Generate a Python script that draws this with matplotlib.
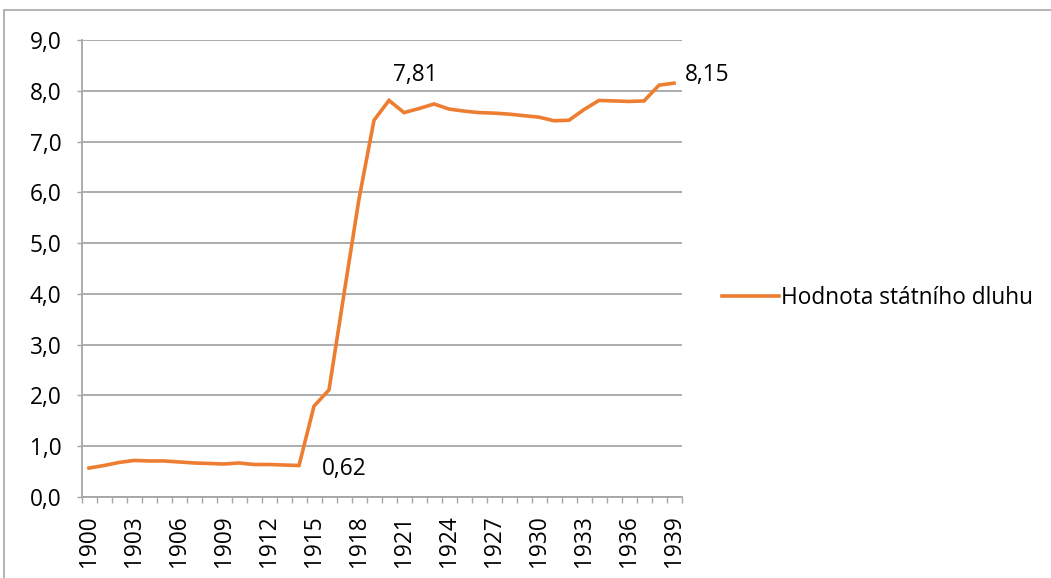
import numpy as np
import matplotlib
matplotlib.use('Agg')
import matplotlib.pyplot as plt
from matplotlib.patches import Rectangle

# Data
years = list(range(1900, 1940))
debt = [0.57, 0.62, 0.68, 0.72, 0.71, 0.71, 0.69, 0.67, 0.66, 0.65,
        0.67, 0.64, 0.64, 0.63, 0.62, 1.79, 2.11, 4.00, 5.87, 7.42,
        7.81, 7.57, 7.65, 7.74, 7.64, 7.60, 7.57, 7.56, 7.54, 7.51,
        7.48, 7.41, 7.42, 7.63, 7.81, 7.80, 7.79, 7.80, 8.11, 8.15]
series_name = 'Hodnota státního dluhu'
label_years = [1914, 1920, 1939]
y_ticks = [0, 1, 2, 3, 4, 5, 6, 7, 8, 9]

orange = '#ED7D31'
grey = '#A6A6A6'

plt.rcParams['font.family'] = ['Open Sans', 'DejaVu Sans']
plt.rcParams['font.size'] = 16.3

fig = plt.figure(figsize=(10.51, 5.78), dpi=100)
ax = fig.add_axes([81.5/1051, 81/578, 600/1051, 457/578])

x = np.arange(len(years))
ax.plot(x, debt, color=orange, linewidth=2.6, label=series_name,
        solid_joinstyle='miter')

# Axes
ax.set_xlim(-0.5, len(years) - 0.5)
ax.set_ylim(0, 9)
ax.set_yticks(y_ticks)
ax.set_yticklabels([('%.1f' % v).replace('.', ',') for v in y_ticks])
ax.tick_params(axis='y', length=3.6, color=grey, width=1, pad=11)

major = x[::3]
ax.set_xticks(major)
ax.set_xticklabels([str(years[i]) for i in major], rotation=90)
ax.set_xticks(np.arange(-0.5, len(years)), minor=True)
ax.tick_params(axis='x', which='major', length=0, pad=13)
ax.tick_params(axis='x', which='minor', length=4, color=grey, width=1)

ax.grid(axis='y', color=grey, linewidth=1.3)
ax.set_axisbelow(True)
for s in ['top', 'right']:
    ax.spines[s].set_visible(False)
for s in ['left', 'bottom']:
    ax.spines[s].set_color(grey)
    ax.spines[s].set_linewidth(1.3)

# Data labels
offsets = {1914: (23, -3), 1920: (4, 25), 1939: (11, 8)}
for yr in label_years:
    i = years.index(yr)
    ax.annotate(('%.2f' % debt[i]).replace('.', ','), (x[i], debt[i]),
                textcoords='offset pixels', xytext=offsets[yr],
                ha='left', va='center', annotation_clip=False)

# Legend
fig.legend(loc='center left', bbox_to_anchor=(722/1051, 1 - 298/578),
           frameon=False, handlelength=2.5, handletextpad=0.1,
           borderpad=0, borderaxespad=0)

# Chart border
fig.patches.append(Rectangle((4/1051, -0.1), 1.2, 1.1 - 10/578, fill=False,
                             edgecolor=grey, linewidth=1.2,
                             transform=fig.transFigure, figure=fig))

fig.savefig('out.png', dpi=100)
